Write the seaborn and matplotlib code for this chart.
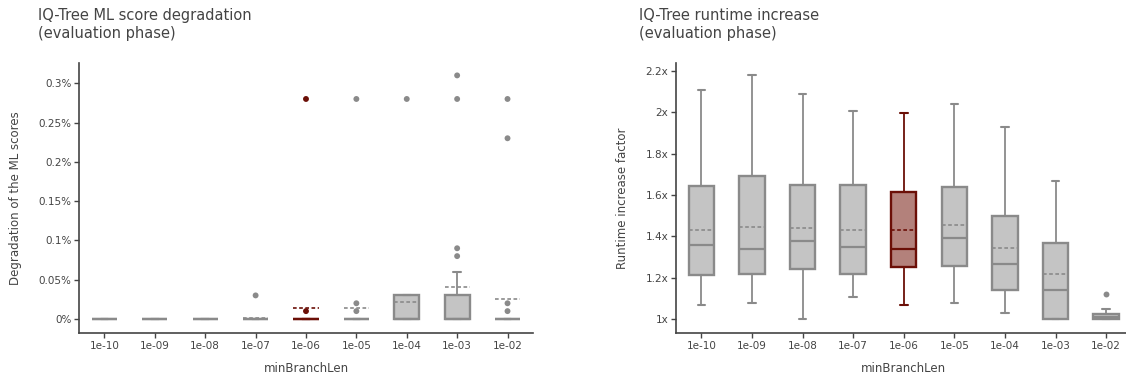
import pandas as pd
import matplotlib
matplotlib.use("Agg")
import matplotlib.pyplot as plt
from matplotlib.ticker import FuncFormatter
import seaborn as sns

# categories on the x axis
categories = ['1e-10', '1e-09', '1e-08', '1e-07', '1e-06', '1e-05', '1e-04', '1e-03', '1e-02']
highlight = '1e-06'

# ML score degradation (%)
ml_q1 = [0, 0, 0, 0, 0, 0, 0, 0, 0]
ml_med = [0, 0, 0, 0, 0, 0, 0, 0, 0]
ml_q3 = [0, 0, 0, 0, 0, 0, 0.03, 0.03, 0]
ml_lo = [0, 0, 0, 0, 0, 0, 0, 0, 0]
ml_hi = [0, 0, 0, 0, 0, 0, 0.03, 0.06, 0]
ml_mean = [0, 0, 0, 0.001, 0.014, 0.014, 0.021, 0.041, 0.025]
ml_fliers = [[], [], [], [0.03], [0.01, 0.28], [0.01, 0.02, 0.28], [0.28],
             [0.08, 0.09, 0.28, 0.31], [0.01, 0.02, 0.23, 0.28]]

# runtime increase factor
rt_q1 = [1.215, 1.216, 1.240, 1.219, 1.250, 1.258, 1.139, 1.0, 1.0]
rt_med = [1.358, 1.339, 1.377, 1.348, 1.339, 1.394, 1.265, 1.140, 1.008]
rt_q3 = [1.644, 1.694, 1.648, 1.650, 1.613, 1.639, 1.500, 1.369, 1.026]
rt_lo = [1.068, 1.079, 1.0, 1.108, 1.068, 1.079, 1.029, 1.0, 1.0]
rt_hi = [2.108, 2.179, 2.090, 2.006, 1.998, 2.039, 1.929, 1.668, 1.05]
rt_mean = [1.431, 1.447, 1.442, 1.431, 1.431, 1.455, 1.345, 1.218, 1.011]
rt_fliers = [[], [], [], [], [], [], [], [], [1.12]]

GREY_EDGE = '#8a8a8a'
GREY_FILL = '#c4c4c4'
RED_EDGE = '#6b0f07'
RED_FILL = '#b3817b'
TEXT = '#444444'

sns.set_theme(style="ticks")
plt.rcParams['font.family'] = ['DejaVu Sans']
plt.rcParams['text.color'] = TEXT
plt.rcParams['axes.labelcolor'] = TEXT
plt.rcParams['xtick.color'] = TEXT
plt.rcParams['ytick.color'] = TEXT


def draw_panel(ax, q1, med, q3, lo, hi, mean, fliers, fmt, ylim, yticks, ylabel):
    stats = []
    for i, cat in enumerate(categories):
        stats.append(dict(label=cat, q1=q1[i], med=med[i], q3=q3[i],
                          whislo=lo[i], whishi=hi[i], mean=mean[i], fliers=[]))
    res = ax.bxp(stats, positions=range(len(categories)), widths=0.5,
                 capwidths=0.15, patch_artist=True, showmeans=True,
                 meanline=True, showfliers=False,
                 boxprops=dict(linewidth=1.7),
                 medianprops=dict(linewidth=1.6),
                 whiskerprops=dict(linewidth=1.3),
                 capprops=dict(linewidth=1.5),
                 meanprops=dict(linewidth=1.2, linestyle=(0, (2.2, 1.5))))
    for i, cat in enumerate(categories):
        edge, fill = (RED_EDGE, RED_FILL) if cat == highlight else (GREY_EDGE, GREY_FILL)
        res['boxes'][i].set_facecolor(fill)
        res['boxes'][i].set_edgecolor(edge)
        res['medians'][i].set_color(edge)
        res['means'][i].set_color(edge)
        for ln in res['whiskers'][2 * i:2 * i + 2] + res['caps'][2 * i:2 * i + 2]:
            ln.set_color(edge)

    rows = [(i, v, categories[i] == highlight) for i in range(len(categories)) for v in fliers[i]]
    fl = pd.DataFrame(rows, columns=['pos', 'value', 'hl'])
    sns.scatterplot(data=fl, x='pos', y='value', hue='hl',
                    palette={True: RED_EDGE, False: GREY_EDGE},
                    s=18, linewidth=0, legend=False, ax=ax, zorder=3)

    ax.set_xlim(-0.5, 8.5)
    ax.set_ylim(*ylim)
    ax.set_yticks(yticks)
    ax.yaxis.set_major_formatter(FuncFormatter(fmt))
    ax.set_xticks(range(len(categories)))
    ax.set_xticklabels(categories)
    ax.set_xlabel('minBranchLen', fontsize=8.5, labelpad=8)
    ax.set_ylabel(ylabel, fontsize=8.5, labelpad=12)
    ax.tick_params(axis='both', labelsize=7.5, length=3.5, width=1, color=TEXT, pad=2)
    for side in ['left', 'bottom']:
        ax.spines[side].set_color(TEXT)
        ax.spines[side].set_linewidth(1.2)
    sns.despine(ax=ax)


fig = plt.figure(figsize=(11.26, 3.78), dpi=100)
ax1 = fig.add_axes([0.0704, 0.1183, 0.4027, 0.7159])
ax2 = fig.add_axes([0.6004, 0.1183, 0.4044, 0.7159])

draw_panel(ax1, ml_q1, ml_med, ml_q3, ml_lo, ml_hi, ml_mean, ml_fliers,
           lambda v, p: f'{v:g}%', (-0.0182, 0.3262),
           [0, 0.05, 0.1, 0.15, 0.2, 0.25, 0.3], 'Degradation of the ML scores')
draw_panel(ax2, rt_q1, rt_med, rt_q3, rt_lo, rt_hi, rt_mean, rt_fliers,
           lambda v, p: f'{v:g}x', (0.9308, 2.240),
           [1, 1.2, 1.4, 1.6, 1.8, 2, 2.2], 'Runtime increase factor')
ax2.spines['bottom'].set_clip_on(False)

fig.text(0.0337, 0.978, 'IQ-Tree ML score degradation\n(evaluation phase)',
         fontsize=10.5, va='top', ha='left', linespacing=1.25)
fig.text(0.5675, 0.978, 'IQ-Tree runtime increase\n(evaluation phase)',
         fontsize=10.5, va='top', ha='left', linespacing=1.25)

fig.savefig('out.png', dpi=100)
